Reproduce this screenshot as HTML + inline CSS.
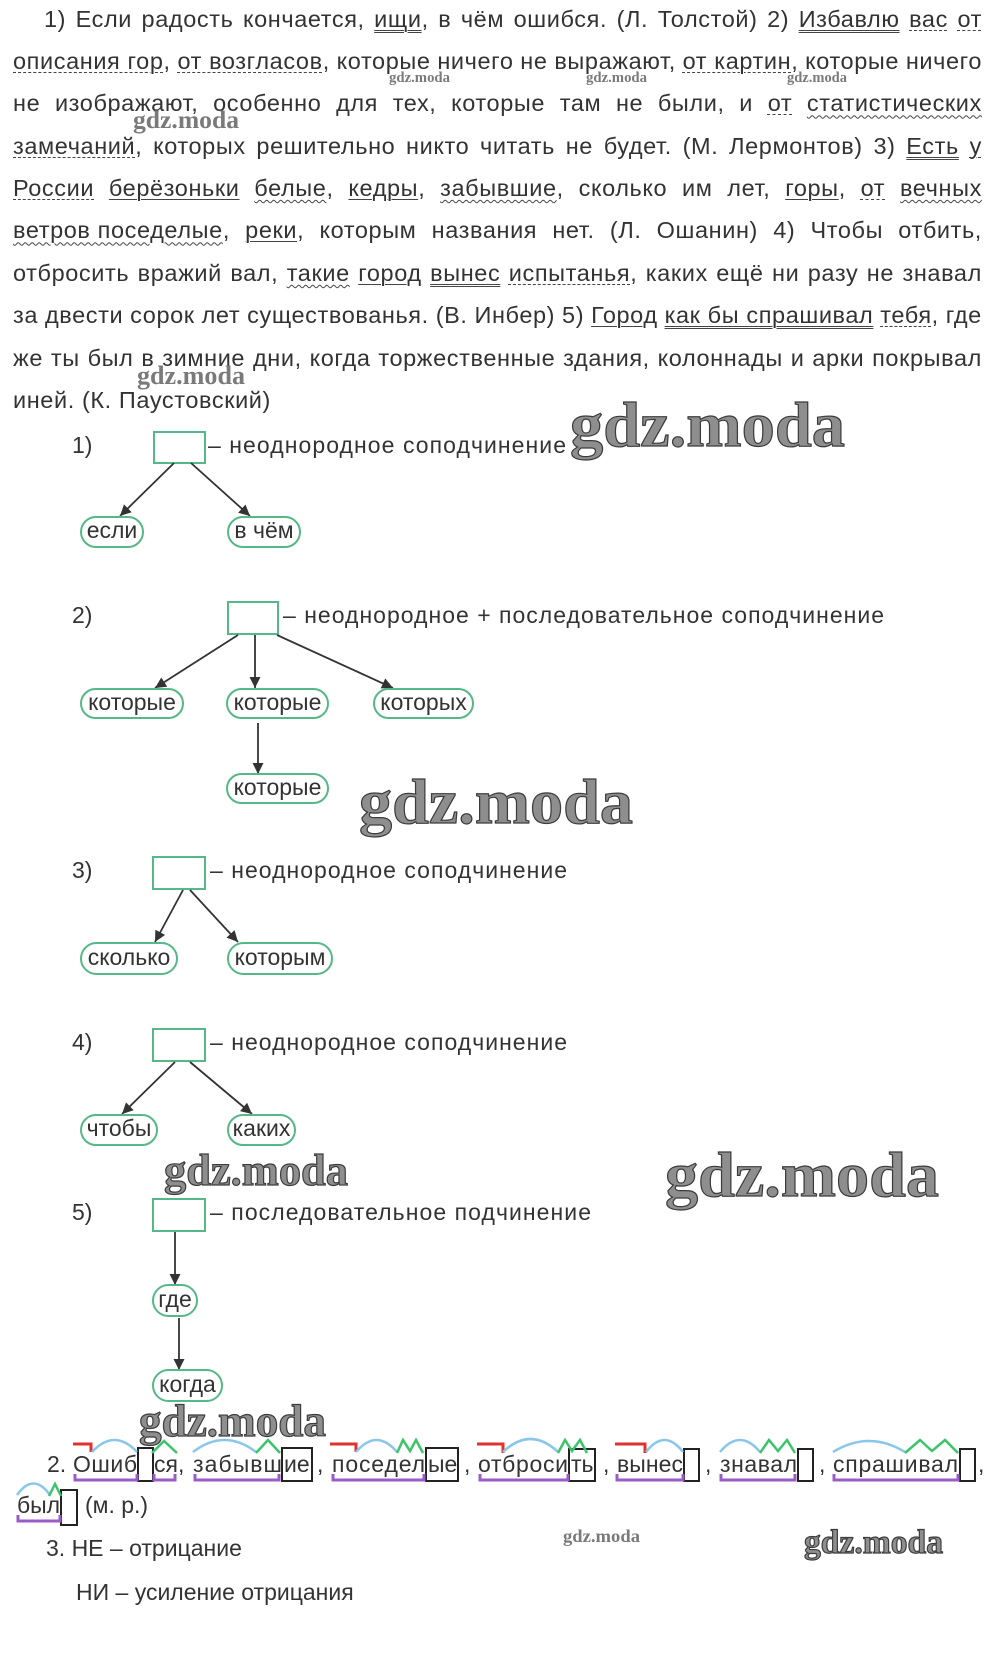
<!DOCTYPE html>
<html>
<head>
<meta charset="utf-8">
<style>
html,body{margin:0;padding:0;background:#fff;}
body{width:992px;height:1653px;position:relative;overflow:hidden;}
.p{position:absolute;left:13px;top:-2.5px;width:969px;font-family:"Liberation Sans","Noto Sans CJK SC",sans-serif;font-size:23.5px;line-height:42.4px;color:#333;letter-spacing:0.6px;}
.p .ln{display:flex;justify-content:space-between;align-items:baseline;height:42.4px;white-space:nowrap;flex-wrap:nowrap;}
.p .ln > span{flex:none;line-height:42.4px;}
.p .l1{padding-left:31px;}
.p .last{height:42.4px;white-space:nowrap;}
.s{text-decoration:underline solid #444;text-decoration-thickness:1px;text-underline-offset:3px;}
.d{text-decoration:underline double #444;text-decoration-thickness:1px;text-underline-offset:3px;}
.da{text-decoration:underline dashed #444;text-decoration-thickness:1px;text-underline-offset:3px;}
.w{text-decoration:underline wavy #444;text-decoration-thickness:1px;text-underline-offset:3px;}
svg{position:absolute;left:0;top:0;}
svg text.t{font-family:"Liberation Sans","Noto Sans CJK SC",sans-serif;font-size:23px;fill:#333;}
svg text.wm{font-family:"Liberation Serif","Noto Serif CJK SC",serif;font-weight:bold;fill:#8e8e8e;stroke:#3c3c3c;stroke-width:1.2px;}
svg text.wms{font-family:"Liberation Serif","Noto Serif CJK SC",serif;font-weight:bold;fill:#7a7a7a;}
</style>
</head>
<body>
<div class="p">
<div class="ln l1"><span>1)</span><span>Если</span><span>радость</span><span>кончается,</span><span><span class="d">ищи</span>,</span><span>в</span><span>чём</span><span>ошибся.</span><span>(Л.</span><span>Толстой)</span><span>2)</span><span class="d">Избавлю</span><span class="da">вас</span><span class="da">от</span></div>
<div class="ln"><span><span class="da">описания гор</span>,</span><span><span class="da">от возгласов</span>,</span><span>которые</span><span>ничего</span><span>не</span><span>выражают,</span><span><span class="da">от картин</span>,</span><span>которые</span><span>ничего</span></div>
<div class="ln"><span>не</span><span>изображают,</span><span>особенно</span><span>для</span><span>тех,</span><span>которые</span><span>там</span><span>не</span><span>были,</span><span>и</span><span class="da">от</span><span class="w">статистических</span></div>
<div class="ln"><span><span class="da">замечаний</span>,</span><span>которых</span><span>решительно</span><span>никто</span><span>читать</span><span>не</span><span>будет.</span><span>(М.</span><span>Лермонтов)</span><span>3)</span><span class="d">Есть</span><span class="da">у</span></div>
<div class="ln"><span class="da">России</span><span class="s">берёзоньки</span><span><span class="w">белые</span>,</span><span><span class="s">кедры</span>,</span><span><span class="w">забывшие</span>,</span><span>сколько</span><span>им</span><span>лет,</span><span><span class="s">горы</span>,</span><span class="da">от</span><span class="w">вечных</span></div>
<div class="ln"><span><span class="w">ветров поседелые</span>,</span><span><span class="s">реки</span>,</span><span>которым</span><span>названия</span><span>нет.</span><span>(Л.</span><span>Ошанин)</span><span>4)</span><span>Чтобы</span><span>отбить,</span></div>
<div class="ln"><span>отбросить</span><span>вражий</span><span>вал,</span><span class="w">такие</span><span class="s">город</span><span class="d">вынес</span><span><span class="da">испытанья</span>,</span><span>каких</span><span>ещё</span><span>ни</span><span>разу</span><span>не</span><span>знавал</span></div>
<div class="ln"><span>за</span><span>двести</span><span>сорок</span><span>лет</span><span>существованья.</span><span>(В.</span><span>Инбер)</span><span>5)</span><span class="s">Город</span><span class="d">как бы спрашивал</span><span><span class="da">тебя</span>,</span><span>где</span></div>
<div class="ln"><span>же</span><span>ты</span><span>был</span><span>в</span><span>зимние</span><span>дни,</span><span>когда</span><span>торжественные</span><span>здания,</span><span>колоннады</span><span>и</span><span>арки</span><span>покрывал</span></div>
<div class="last">иней. (К. Паустовский)</div>
</div>

<svg width="992" height="1653" viewBox="0 0 992 1653" xmlns="http://www.w3.org/2000/svg">
<defs>
<marker id="ah" viewBox="0 0 10 10" refX="10" refY="5" markerWidth="12" markerHeight="11" markerUnits="userSpaceOnUse" orient="auto">
<path d="M0,0 L10,5 L0,10 z" fill="#333"/>
</marker>
</defs>

<!-- watermarks -->
<text class="wms" x="133" y="128" style="font-size:25px" textLength="106" lengthAdjust="spacingAndGlyphs">gdz.moda</text>
<text class="wms" x="389" y="82" style="font-size:15px" textLength="61" lengthAdjust="spacingAndGlyphs">gdz.moda</text>
<text class="wms" x="586" y="82" style="font-size:15px" textLength="61" lengthAdjust="spacingAndGlyphs">gdz.moda</text>
<text class="wms" x="787" y="82" style="font-size:15px" textLength="60" lengthAdjust="spacingAndGlyphs">gdz.moda</text>
<text class="wms" x="137" y="384" style="font-size:26px" textLength="108" lengthAdjust="spacingAndGlyphs">gdz.moda</text>
<text class="wm" x="570" y="446" style="font-size:64px" textLength="275" lengthAdjust="spacingAndGlyphs">gdz.moda</text>
<text class="wm" x="359" y="823" style="font-size:64px" textLength="274" lengthAdjust="spacingAndGlyphs">gdz.moda</text>
<text class="wm" x="665" y="1196" style="font-size:64px" textLength="274" lengthAdjust="spacingAndGlyphs">gdz.moda</text>
<text class="wm" x="164" y="1185" style="font-size:44px" textLength="184" lengthAdjust="spacingAndGlyphs">gdz.moda</text>
<text class="wm" x="139" y="1436" style="font-size:45px" textLength="187" lengthAdjust="spacingAndGlyphs">gdz.moda</text>
<text class="wm" x="804" y="1553" style="font-size:34px" textLength="139" lengthAdjust="spacingAndGlyphs">gdz.moda</text>
<text class="wms" x="563" y="1542" style="font-size:18px" textLength="77" lengthAdjust="spacingAndGlyphs">gdz.moda</text>

<!-- Diagram 1 -->
<text class="t" x="72" y="453">1)</text>
<rect x="154" y="432" width="51" height="31" fill="none" stroke="#55b886" stroke-width="2"/>
<text class="t" x="208" y="453" textLength="358" lengthAdjust="spacing">– неоднородное соподчинение</text>
<line x1="174" y1="463" x2="120" y2="516" stroke="#333" stroke-width="1.8" marker-end="url(#ah)"/>
<line x1="191" y1="463" x2="250" y2="516" stroke="#333" stroke-width="1.8" marker-end="url(#ah)"/>
<rect x="81" y="517" width="62" height="30" rx="15" fill="none" stroke="#55b886" stroke-width="2"/>
<text class="t" x="112" y="538" text-anchor="middle">если</text>
<rect x="228" y="517" width="72" height="30" rx="15" fill="none" stroke="#55b886" stroke-width="2"/>
<text class="t" x="264" y="538" text-anchor="middle">в чём</text>

<!-- Diagram 2 -->
<text class="t" x="72" y="623">2)</text>
<rect x="228" y="602" width="50" height="32" fill="none" stroke="#55b886" stroke-width="2"/>
<text class="t" x="283" y="623" textLength="601" lengthAdjust="spacing">– неоднородное + последовательное соподчинение</text>
<line x1="238" y1="635" x2="155" y2="688" stroke="#333" stroke-width="1.8" marker-end="url(#ah)"/>
<line x1="255" y1="635" x2="255" y2="688" stroke="#333" stroke-width="1.8" marker-end="url(#ah)"/>
<line x1="277" y1="635" x2="393" y2="688" stroke="#333" stroke-width="1.8" marker-end="url(#ah)"/>
<rect x="81" y="689" width="102" height="29" rx="14.5" fill="none" stroke="#55b886" stroke-width="2"/>
<text class="t" x="132" y="710" text-anchor="middle">которые</text>
<rect x="227" y="689" width="101" height="29" rx="14.5" fill="none" stroke="#55b886" stroke-width="2"/>
<text class="t" x="277.5" y="710" text-anchor="middle">которые</text>
<rect x="374" y="689" width="99" height="29" rx="14.5" fill="none" stroke="#55b886" stroke-width="2"/>
<text class="t" x="423.5" y="710" text-anchor="middle">которых</text>
<line x1="258" y1="723" x2="258" y2="774" stroke="#333" stroke-width="1.8" marker-end="url(#ah)"/>
<rect x="227" y="774" width="101" height="29" rx="14.5" fill="none" stroke="#55b886" stroke-width="2"/>
<text class="t" x="277.5" y="795" text-anchor="middle">которые</text>

<!-- Diagram 3 -->
<text class="t" x="72" y="878">3)</text>
<rect x="153" y="857" width="52" height="32" fill="none" stroke="#55b886" stroke-width="2"/>
<text class="t" x="210" y="878" textLength="357" lengthAdjust="spacing">– неоднородное соподчинение</text>
<line x1="183" y1="890" x2="155" y2="942" stroke="#333" stroke-width="1.8" marker-end="url(#ah)"/>
<line x1="190" y1="890" x2="238" y2="942" stroke="#333" stroke-width="1.8" marker-end="url(#ah)"/>
<rect x="81" y="943" width="96" height="31" rx="15.5" fill="none" stroke="#55b886" stroke-width="2"/>
<text class="t" x="129" y="965" text-anchor="middle">сколько</text>
<rect x="228" y="943" width="104" height="31" rx="15.5" fill="none" stroke="#55b886" stroke-width="2"/>
<text class="t" x="280" y="965" text-anchor="middle">которым</text>

<!-- Diagram 4 -->
<text class="t" x="72" y="1050">4)</text>
<rect x="153" y="1029" width="52" height="32" fill="none" stroke="#55b886" stroke-width="2"/>
<text class="t" x="210" y="1050" textLength="357" lengthAdjust="spacing">– неоднородное соподчинение</text>
<line x1="175" y1="1062" x2="122" y2="1114" stroke="#333" stroke-width="1.8" marker-end="url(#ah)"/>
<line x1="190" y1="1062" x2="252" y2="1114" stroke="#333" stroke-width="1.8" marker-end="url(#ah)"/>
<rect x="81" y="1115" width="76" height="30" rx="15" fill="none" stroke="#55b886" stroke-width="2"/>
<text class="t" x="119" y="1136" text-anchor="middle">чтобы</text>
<rect x="228" y="1115" width="67" height="30" rx="15" fill="none" stroke="#55b886" stroke-width="2"/>
<text class="t" x="261.5" y="1136" text-anchor="middle">каких</text>

<!-- Diagram 5 -->
<text class="t" x="72" y="1220">5)</text>
<rect x="153" y="1199" width="52" height="32" fill="none" stroke="#55b886" stroke-width="2"/>
<text class="t" x="210" y="1220" textLength="381" lengthAdjust="spacing">– последовательное подчинение</text>
<line x1="175" y1="1232" x2="175" y2="1285" stroke="#333" stroke-width="1.8" marker-end="url(#ah)"/>
<rect x="153" y="1285" width="44" height="31" rx="15.5" fill="none" stroke="#55b886" stroke-width="2"/>
<text class="t" x="175" y="1307" text-anchor="middle">где</text>
<line x1="179" y1="1318" x2="179" y2="1370" stroke="#333" stroke-width="1.8" marker-end="url(#ah)"/>
<rect x="153" y="1370" width="69" height="31" rx="15.5" fill="none" stroke="#55b886" stroke-width="2"/>
<text class="t" x="187.5" y="1392" text-anchor="middle">когда</text>

<!-- Section 2 -->
<text class="t" x="47" y="1472">2.</text>
<text class="t" x="73" y="1472" textLength="64" lengthAdjust="spacing">Ошиб</text>
<text class="t" x="154" y="1472">ся,</text>
<text class="t" x="193" y="1472" textLength="89" lengthAdjust="spacing">забывш</text>
<text class="t" x="284" y="1472">ие</text>
<text class="t" x="317" y="1472">,</text>
<text class="t" x="332" y="1472" textLength="93" lengthAdjust="spacing">поседел</text>
<text class="t" x="428" y="1472">ые</text>
<text class="t" x="464" y="1472">,</text>
<text class="t" x="478" y="1472" textLength="90" lengthAdjust="spacing">отброси</text>
<text class="t" x="571" y="1472">ть</text>
<text class="t" x="603" y="1472">,</text>
<text class="t" x="617" y="1472" textLength="66" lengthAdjust="spacing">вынес</text>
<text class="t" x="705" y="1472">,</text>
<text class="t" x="720" y="1472" textLength="77" lengthAdjust="spacing">знавал</text>
<text class="t" x="819" y="1472">,</text>
<text class="t" x="833" y="1472" textLength="125" lengthAdjust="spacing">спрашивал</text>
<text class="t" x="978" y="1472">,</text>

<g fill="none" stroke="#222" stroke-width="2">
<rect x="138" y="1448" width="15" height="33"/>
<rect x="282" y="1448" width="30" height="33"/>
<rect x="426" y="1448" width="32" height="33"/>
<rect x="569" y="1449" width="26" height="32"/>
<rect x="684" y="1449" width="15" height="32"/>
<rect x="798" y="1449" width="15" height="32"/>
<rect x="960" y="1449" width="15" height="32"/>
<rect x="61" y="1490" width="16" height="35"/>
</g>

<g fill="none" stroke="#e0322f" stroke-width="3">
<polyline points="73,1444 91,1444 91,1452"/>
<polyline points="330,1444 356,1444 356,1452"/>
<polyline points="477,1444 503,1444 503,1453"/>
<polyline points="615,1444 645,1444 645,1453"/>
</g>

<g fill="none" stroke="#88c6ea" stroke-width="2.5">
<path d="M92,1452 Q114.5,1428 137,1452"/>
<path d="M193,1452 Q224.5,1428 256,1452"/>
<path d="M356,1452 Q376.5,1428 397,1452"/>
<path d="M503,1452 Q530.5,1426 558,1452"/>
<path d="M646,1452 Q664.5,1428 683,1452"/>
<path d="M720,1452 Q740,1428 760,1452"/>
<path d="M833,1452 Q869,1430 905,1452"/>
<path d="M17,1495 Q33.5,1472 50,1495"/>
</g>

<g fill="none" stroke="#3cc46a" stroke-width="2.5" stroke-linejoin="miter">
<polyline points="152,1453 164,1441 177,1453"/>
<polyline points="256,1453 268,1440 280,1453"/>
<polyline points="397,1453 403,1440 410,1451 416,1440 423,1453"/>
<polyline points="558,1453 565,1440 572,1451 580,1440 587,1453"/>
<polyline points="760,1453 769,1440 778,1451 787,1440 795,1453"/>
<polyline points="905,1453 920,1440 932,1451 945,1440 958,1453"/>
<polyline points="49,1496 55,1484 61,1496"/>
</g>

<g fill="none" stroke="#9b5cc8" stroke-width="3">
<polyline points="75,1474 75,1480 137,1480 137,1474"/>
<polyline points="154,1474 154,1480 175,1480 175,1474"/>
<polyline points="195,1474 195,1480 279,1480 279,1474"/>
<polyline points="333,1474 333,1480 424,1480 424,1474"/>
<polyline points="480,1474 480,1480 568,1480 568,1474"/>
<polyline points="617,1474 617,1480 683,1480 683,1474"/>
<polyline points="721,1474 721,1480 795,1480 795,1474"/>
<polyline points="834,1474 834,1480 958,1480 958,1474"/>
<polyline points="18,1515 18,1521 60,1521 60,1515"/>
</g>

<text class="t" x="17" y="1513" textLength="43" lengthAdjust="spacing">был</text>
<text class="t" x="85" y="1513">(м. р.)</text>

<!-- Section 3 -->
<text class="t" x="46" y="1556">3. НЕ – отрицание</text>
<text class="t" x="76" y="1600">НИ – усиление отрицания</text>
</svg>
</body>
</html>
